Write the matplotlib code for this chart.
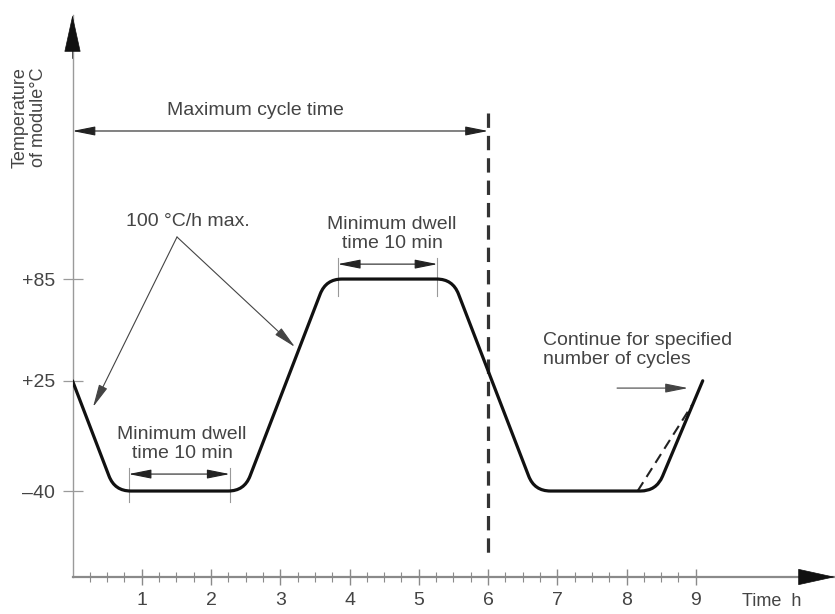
import matplotlib
matplotlib.use("Agg")
import matplotlib.pyplot as plt
from matplotlib.path import Path
from matplotlib.patches import PathPatch
import numpy as np

# ---------------- data ----------------
profile_time = [0.0, 0.61, 2.48, 3.66, 5.49, 6.67, 8.43, 9.10]
profile_temp = [25, -40, -40, 85, 85, -40, -40, 25]
alt_time = [8.16, 8.95]
alt_temp = [-40, 11]
ytick_vals = [85, 25, -40]
ytick_labels = ["+85", "+25", "–40"]
xtick_vals = [1, 2, 3, 4, 5, 6, 7, 8, 9]
xtick_labels = ["1", "2", "3", "4", "5", "6", "7", "8", "9"]
minor_ticks = [q / 4 for q in range(1, 37) if q % 4 != 0]
cycle_end = 6
dwell_low = [0.81, 2.27]
dwell_high = [3.83, 5.27]

plt.rcParams["font.family"] = ["Liberation Sans", "DejaVu Sans"]
TXT = "#444444"
FS = 14

fig = plt.figure(figsize=(8.35, 6.14), dpi=100)
ax = fig.add_axes([72.5 / 835, 1 - 577 / 614, (835 - 72.5) / 835, (577 - 15) / 614])
ax.set_xlim(0, 11.01)
ax.set_ylim(-90.7, 240.7)

# scale used only for rounding the corners (px per unit)
SX, SY = 69.25, 1.696


def rounded_path(xs, ys, r=16.0):
    P = np.column_stack([np.array(xs) * SX, np.array(ys) * SY])
    verts = [P[0]]
    codes = [Path.MOVETO]
    for i in range(1, len(P) - 1):
        p, a, b = P[i], P[i - 1], P[i + 1]
        u1 = (a - p) / np.linalg.norm(a - p)
        u2 = (b - p) / np.linalg.norm(b - p)
        verts += [p + u1 * r, p, p + u2 * r]
        codes += [Path.LINETO, Path.CURVE3, Path.CURVE3]
    verts.append(P[-1])
    codes.append(Path.LINETO)
    V = np.array(verts)
    V[:, 0] /= SX
    V[:, 1] /= SY
    return Path(V, codes)


ax.add_patch(PathPatch(rounded_path(profile_time, profile_temp), fill=False,
                       edgecolor="#111111", lw=2.3, capstyle="round", joinstyle="round", zorder=5))
ax.plot(alt_time, alt_temp, color="#222222", lw=1.5, linestyle=(0, (5, 3)), zorder=4)

# vertical dashed line: end of maximum cycle time
ax.plot([cycle_end, cycle_end], [182.9, -79.5], color="#333333", lw=2.3,
        linestyle=(0, (4.5, 2.5)), zorder=3)

arrow_kw = dict(arrowstyle="<|-|>,head_length=1.4,head_width=0.28", color="#222222",
                lw=0.8, shrinkA=0, shrinkB=0, mutation_scale=10)
# maximum cycle time
ax.annotate("", xy=(cycle_end, 172.3), xytext=(0, 172.3), arrowprops=arrow_kw, annotation_clip=False)
ax.text(2.635, 184.6, "Maximum cycle time", ha="center", va="center", fontsize=FS, color=TXT)

# 100 °C/h max.
ax.text(1.668, 119.2, "100 °C/h max.", ha="center", va="center", fontsize=FS, color=TXT)
lead_kw = dict(arrowstyle="-|>,head_length=1.4,head_width=0.28", color="#444444",
               lw=0.8, shrinkA=0, shrinkB=0, mutation_scale=10)
ax.annotate("", xy=(0.296, 9.5), xytext=(1.509, 109.8), arrowprops=lead_kw)
ax.annotate("", xy=(3.213, 44.9), xytext=(1.509, 109.8), arrowprops=lead_kw)

# dwell markers
for (x0, x1), ya, (yv0, yv1), (tx, ty) in [
    (dwell_low, -30, (-26.4, -46.5), (1.581, -12.3)),
    (dwell_high, 93.8, (97.4, 75.0), (4.614, 111.5)),
]:
    ax.annotate("", xy=(x1, ya), xytext=(x0, ya), arrowprops=arrow_kw)
    for xv in (x0, x1):
        ax.plot([xv, xv], [yv0, yv1], color="#999999", lw=0.8, zorder=2)
    ax.text(tx, ty, "Minimum dwell\ntime 10 min", ha="center", va="center",
            fontsize=FS, color=TXT, linespacing=1.2)

# continue
ax.text(6.794, 43.1, "Continue for specified\nnumber of cycles", ha="left", va="center",
        fontsize=FS, color=TXT, linespacing=1.2)
ax.annotate("", xy=(8.888, 20.7), xytext=(7.863, 20.7), arrowprops=lead_kw)

# axes styling
for s in ("top", "right"):
    ax.spines[s].set_visible(False)
ax.spines["left"].set_color("#9a9a9a")
ax.spines["left"].set_linewidth(1.0)
ax.spines["bottom"].set_color("#8a8a8a")
ax.spines["bottom"].set_linewidth(1.6)

ax.set_yticks(ytick_vals)
ax.set_yticklabels(ytick_labels)
ax.set_xticks(xtick_vals)
ax.set_xticklabels(xtick_labels)
ax.set_xticks(minor_ticks, minor=True)
ax.tick_params(axis="y", direction="inout", length=15, width=0.9, color="#9a9a9a",
               labelsize=FS, labelcolor=TXT, pad=5)
ax.tick_params(axis="x", which="major", direction="inout", length=12, width=1.0,
               color="#8a8a8a", labelsize=FS, labelcolor=TXT, pad=5)
ax.tick_params(axis="x", which="minor", direction="inout", length=7, width=0.8, color="#8a8a8a")

# axis arrowheads
head_kw = dict(arrowstyle="-|>,head_length=2.5,head_width=0.55", color="#111111",
               lw=0.5, shrinkA=0, shrinkB=0, mutation_scale=10)
ax.annotate("", xy=(0, 240.7), xytext=(0, 215), arrowprops=head_kw, annotation_clip=False)
ax.annotate("", xy=(11.01, -90.7), xytext=(10.5, -90.7), arrowprops=head_kw, annotation_clip=False)

ax.set_xlabel("Time  h", fontsize=FS - 1, color=TXT)
ax.xaxis.set_label_coords(0.917, -0.028)
ax.set_ylabel("Temperature\nof module°C", fontsize=FS - 1, color=TXT, linespacing=1.1)
ax.yaxis.set_label_coords(-0.034, 0.818)

fig.savefig("out.png", dpi=100)
